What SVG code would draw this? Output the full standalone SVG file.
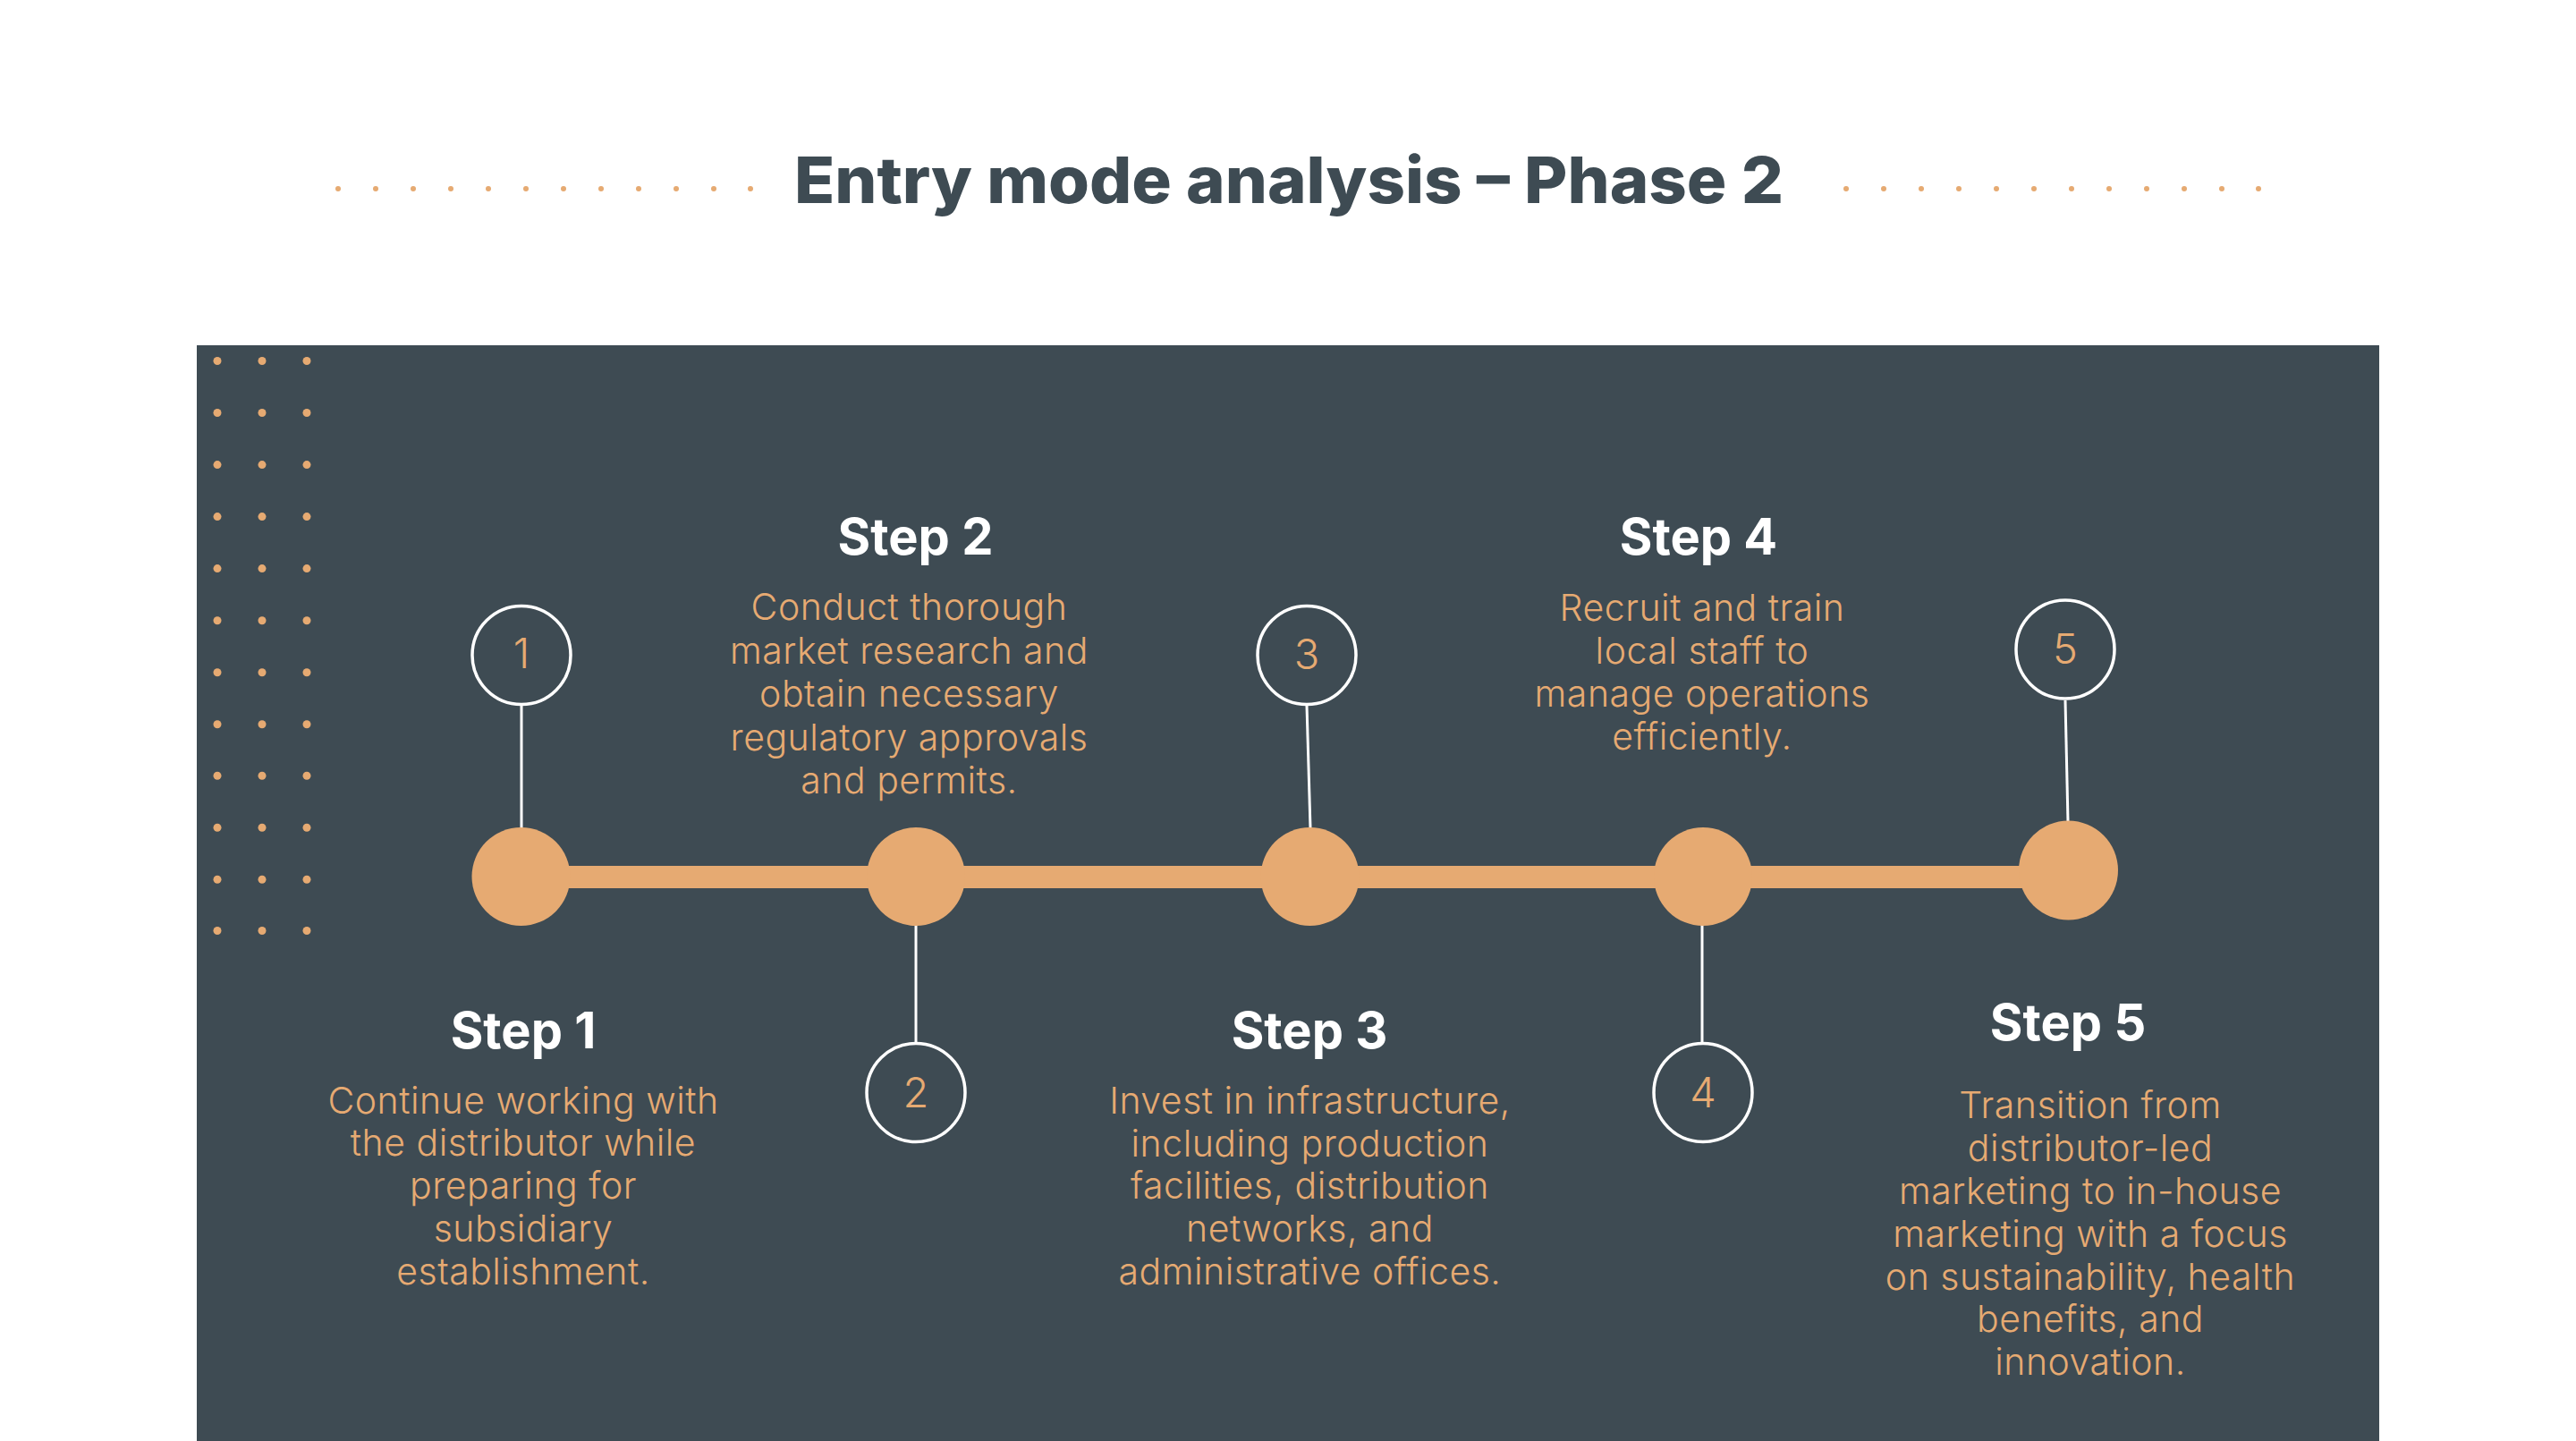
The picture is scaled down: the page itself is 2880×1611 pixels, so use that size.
<svg xmlns="http://www.w3.org/2000/svg" width="2880" height="1611" viewBox="0 0 2880 1611">
<defs>
<style>
.title{font-family:Inter,"Noto Sans","Liberation Sans",sans-serif;font-weight:800;font-size:72px;fill:#3E4B53}
.tdot{fill:#E6AA72}
.gdot{fill:#E6AA72}
.bar{fill:#E6AA72}
.big{fill:#E6AA72}
.ring{fill:none;stroke:#FFFFFF;stroke-width:3.5}
.conn{stroke:#FFFFFF;stroke-width:3;fill:none}
.num{font-family:Inter,"Noto Sans","Liberation Sans",sans-serif;font-weight:300;font-size:47px;fill:#E6AA72;text-anchor:middle}
.head{font-family:Inter,"Noto Sans","Liberation Sans",sans-serif;font-weight:700;font-size:56px;fill:#FFFFFF;text-anchor:middle}
.body{font-family:Inter,"Noto Sans","Liberation Sans",sans-serif;font-weight:300;font-size:41px;letter-spacing:0.5px;fill:#E6AA72;text-anchor:middle}
</style>
</defs>
<rect width="2880" height="1611" fill="#FFFFFF"/>
<g id="title">
<text class="title" x="888" y="227" textLength="1106" lengthAdjust="spacingAndGlyphs">Entry mode analysis – Phase 2</text>
<g class="tdot">
<circle cx="378" cy="211" r="3"/><circle cx="420" cy="211" r="3"/><circle cx="462" cy="211" r="3"/><circle cx="504" cy="211" r="3"/><circle cx="546" cy="211" r="3"/><circle cx="588" cy="211" r="3"/><circle cx="630" cy="211" r="3"/><circle cx="672" cy="211" r="3"/><circle cx="714" cy="211" r="3"/><circle cx="756" cy="211" r="3"/><circle cx="798" cy="211" r="3"/><circle cx="839" cy="211" r="3"/>
<circle cx="2064" cy="211" r="3"/><circle cx="2106" cy="211" r="3"/><circle cx="2148" cy="211" r="3"/><circle cx="2190" cy="211" r="3"/><circle cx="2232" cy="211" r="3"/><circle cx="2274" cy="211" r="3"/><circle cx="2316" cy="211" r="3"/><circle cx="2358" cy="211" r="3"/><circle cx="2400" cy="211" r="3"/><circle cx="2442" cy="211" r="3"/><circle cx="2484" cy="211" r="3"/><circle cx="2525" cy="211" r="3"/>
</g>
</g>
<rect id="panel" x="220" y="386" width="2440" height="1225" fill="#3E4B53"/>
<g id="dotgrid" class="gdot">
<circle cx="243" cy="403.5" r="4.5"/><circle cx="293" cy="403.5" r="4.5"/><circle cx="343" cy="403.5" r="4.5"/>
<circle cx="243" cy="461.5" r="4.5"/><circle cx="293" cy="461.5" r="4.5"/><circle cx="343" cy="461.5" r="4.5"/>
<circle cx="243" cy="519.6" r="4.5"/><circle cx="293" cy="519.6" r="4.5"/><circle cx="343" cy="519.6" r="4.5"/>
<circle cx="243" cy="577.6" r="4.5"/><circle cx="293" cy="577.6" r="4.5"/><circle cx="343" cy="577.6" r="4.5"/>
<circle cx="243" cy="635.6" r="4.5"/><circle cx="293" cy="635.6" r="4.5"/><circle cx="343" cy="635.6" r="4.5"/>
<circle cx="243" cy="693.7" r="4.5"/><circle cx="293" cy="693.7" r="4.5"/><circle cx="343" cy="693.7" r="4.5"/>
<circle cx="243" cy="751.7" r="4.5"/><circle cx="293" cy="751.7" r="4.5"/><circle cx="343" cy="751.7" r="4.5"/>
<circle cx="243" cy="809.7" r="4.5"/><circle cx="293" cy="809.7" r="4.5"/><circle cx="343" cy="809.7" r="4.5"/>
<circle cx="243" cy="867.3" r="4.5"/><circle cx="293" cy="867.3" r="4.5"/><circle cx="343" cy="867.3" r="4.5"/>
<circle cx="243" cy="925.3" r="4.5"/><circle cx="293" cy="925.3" r="4.5"/><circle cx="343" cy="925.3" r="4.5"/>
<circle cx="243" cy="983.3" r="4.5"/><circle cx="293" cy="983.3" r="4.5"/><circle cx="343" cy="983.3" r="4.5"/>
<circle cx="243" cy="1040.5" r="4.5"/><circle cx="293" cy="1040.5" r="4.5"/><circle cx="343" cy="1040.5" r="4.5"/>
</g>
<g id="connectors">
<rect class="bar" x="582" y="968" width="1730" height="25"/>
<line class="conn" x1="583" y1="789" x2="583" y2="926"/>
<line class="conn" x1="1024" y1="1034" x2="1024" y2="1166"/>
<line class="conn" x1="1461" y1="789" x2="1465" y2="926"/>
<line class="conn" x1="1903" y1="1034" x2="1903" y2="1166"/>
<line class="conn" x1="2309" y1="783" x2="2312" y2="919"/>
</g>
<g id="step1">
<circle class="big" cx="582.5" cy="980" r="55"/>
<circle class="ring" cx="583" cy="732.5" r="55"/>
<text class="num" x="583" y="747">1</text>
<text class="head" x="585" y="1172">Step 1</text>
<text class="body" x="585" y="1245">Continue working with</text>
<text class="body" x="585" y="1292">the distributor while</text>
<text class="body" x="585" y="1340">preparing for</text>
<text class="body" x="585" y="1388">subsidiary</text>
<text class="body" x="585" y="1436">establishment.</text>
</g>
<g id="step2">
<circle class="big" cx="1024" cy="980" r="55"/>
<circle class="ring" cx="1024" cy="1221.5" r="55"/>
<text class="num" x="1024" y="1238">2</text>
<text class="head" x="1023.5" y="620">Step 2</text>
<text class="body" x="1016.5" y="693">Conduct thorough</text>
<text class="body" x="1016.5" y="741.5">market research and</text>
<text class="body" x="1016.5" y="790">obtain necessary</text>
<text class="body" x="1016.5" y="838.5">regulatory approvals</text>
<text class="body" x="1016.5" y="886.5">and permits.</text>
</g>
<g id="step3">
<circle class="big" cx="1464.5" cy="980" r="55"/>
<circle class="ring" cx="1461" cy="732.5" r="55"/>
<text class="num" x="1461" y="748">3</text>
<text class="head" x="1464" y="1172">Step 3</text>
<text class="body" x="1464.5" y="1245">Invest in infrastructure,</text>
<text class="body" x="1464.5" y="1293">including production</text>
<text class="body" x="1464.5" y="1340">facilities, distribution</text>
<text class="body" x="1464.5" y="1388">networks, and</text>
<text class="body" x="1464.5" y="1436">administrative offices.</text>
</g>
<g id="step4">
<circle class="big" cx="1904" cy="980" r="55"/>
<circle class="ring" cx="1904" cy="1221.5" r="55"/>
<text class="num" x="1904" y="1238">4</text>
<text class="head" x="1899" y="620">Step 4</text>
<text class="body" x="1903" y="694">Recruit and train</text>
<text class="body" x="1903" y="742">local staff to</text>
<text class="body" x="1903" y="790">manage operations</text>
<text class="body" x="1903" y="838">efficiently.</text>
</g>
<g id="step5">
<circle class="big" cx="2312.5" cy="973" r="55.5"/>
<circle class="ring" cx="2309" cy="726" r="55"/>
<text class="num" x="2309" y="741.5">5</text>
<text class="head" x="2312" y="1163">Step 5</text>
<text class="body" x="2337" y="1250">Transition from</text>
<text class="body" x="2337" y="1298">distributor-led</text>
<text class="body" x="2337" y="1346">marketing to in-house</text>
<text class="body" x="2337" y="1394">marketing with a focus</text>
<text class="body" x="2337" y="1442">on sustainability, health</text>
<text class="body" x="2337" y="1489">benefits, and</text>
<text class="body" x="2337" y="1537">innovation.</text>
</g>
</svg>
